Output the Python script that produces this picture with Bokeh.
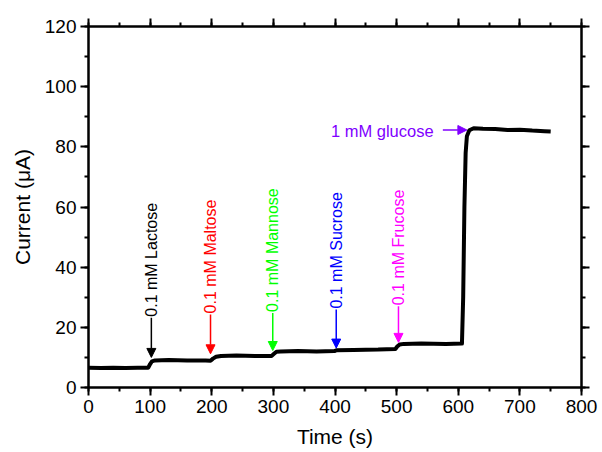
from bokeh.plotting import figure
from bokeh.models import (Range1d, LinearAxis, SingleIntervalTicker, Arrow, NormalHead,
                          ColumnDataSource, CustomJSTickFormatter)
from bokeh.core.properties import value
from bokeh.embed import file_html
from bokeh.resources import INLINE
import math

# ---- data ----
time_s = [0, 20, 40, 60, 80, 97, 100, 103, 108, 130, 160, 190, 198, 202, 207, 215, 240, 270,
          297, 301, 305, 312, 340, 370, 399, 403, 430, 470, 498, 501, 505, 512, 540, 580,
          606, 608, 610, 612, 614, 618, 625, 640, 660, 680, 700, 720, 740, 750]
current_ua = [6.6, 6.5, 6.6, 6.5, 6.6, 6.6, 7.8, 8.7, 9.0, 9.1, 9.0, 9.0, 8.9, 9.6, 10.2, 10.5, 10.6, 10.5,
              10.5, 11.2, 11.9, 12.0, 12.1, 12.0, 12.1, 12.4, 12.5, 12.6, 12.8, 13.6, 14.3, 14.5, 14.6, 14.5,
              14.6, 30.0, 60.0, 78.0, 83.5, 85.5, 86.2, 86.0, 85.9, 85.6, 85.7, 85.4, 85.2, 85.1]

add_labels = ["0.1 mM Lactose", "0.1 mM Maltose", "0.1 mM Mannose", "0.1 mM Sucrose", "0.1 mM Frucose"]
add_time = [102, 198, 299, 402, 503]
add_tip = [10.0, 11.2, 12.3, 13.1, 15.0]
add_tail = [23.2, 24.3, 24.8, 25.9, 27.0]
add_colors = ["#000000", "#FF0000", "#00FF00", "#0000FF", "#FF00FF"]

glu_label = "1 mM glucose"
glu_y = 85.6
glu_tail_t = 575
glu_tip_t = 614
glu_text_t = 560
glu_color = "#8000FF"

x_ticks_interval = 100
y_ticks_interval = 20

FONT = "Liberation Sans"

p = figure(width=602, height=452, output_backend="svg", toolbar_location=None,
           x_range=Range1d(0, 800), y_range=Range1d(0, 120),
           min_border_left=88, min_border_right=21, min_border_top=26, min_border_bottom=65)
p.grid.visible = False
p.outline_line_color = "black"
p.outline_line_width = 2

def style_axis(ax, labels=True):
    ax.axis_line_width = 2
    ax.major_tick_line_width = 2
    ax.minor_tick_line_width = 2
    ax.major_tick_out = 8
    ax.major_tick_in = 0
    ax.minor_tick_out = 4
    ax.minor_tick_in = 0
    ax.major_label_text_font = FONT
    ax.major_label_text_font_size = "19px"
    ax.major_label_text_color = "black"
    ax.axis_label_text_font = FONT
    ax.axis_label_text_font_size = "21px"
    ax.axis_label_text_font_style = "normal"
    ax.axis_label_text_color = "black"
    if not labels:
        ax.formatter = CustomJSTickFormatter(code="return ''")

xt = SingleIntervalTicker(interval=x_ticks_interval, num_minor_ticks=2)
yt = SingleIntervalTicker(interval=y_ticks_interval, num_minor_ticks=2)

p.xaxis.ticker = xt
p.yaxis.ticker = yt
style_axis(p.xaxis[0])
style_axis(p.yaxis[0])
p.xaxis.axis_label = "Time (s)"
p.yaxis.axis_label = "Current (μA)"
p.xaxis.major_label_standoff = 4
p.yaxis.major_label_standoff = 4
p.xaxis.axis_label_standoff = 9
p.yaxis.axis_label_standoff = 8

top = LinearAxis(ticker=SingleIntervalTicker(interval=x_ticks_interval, num_minor_ticks=2))
style_axis(top, labels=False)
p.add_layout(top, "above")
right = LinearAxis(ticker=SingleIntervalTicker(interval=y_ticks_interval, num_minor_ticks=2))
style_axis(right, labels=False)
p.add_layout(right, "right")

p.line(time_s, current_ua, line_color="black", line_width=4, line_join="round")

for t, tip, tail, lab, c in zip(add_time, add_tip, add_tail, add_labels, add_colors):
    p.add_layout(Arrow(end=NormalHead(size=9, fill_color=c, line_color=c, line_width=1),
                       x_start=t, y_start=tail, x_end=t, y_end=tip,
                       line_color=c, line_width=1.5))

src = ColumnDataSource(dict(x=add_time, y=add_tail, text=add_labels, color=add_colors))
p.text(x="x", y="y", text="text", source=src, angle=math.pi / 2, text_color="color",
       text_align="left", text_baseline="middle", y_offset=-1,
       text_font=value(FONT), text_font_size="16px")

p.add_layout(Arrow(end=NormalHead(size=9, fill_color=glu_color, line_color=glu_color, line_width=1),
                   x_start=glu_tail_t, y_start=glu_y, x_end=glu_tip_t, y_end=glu_y,
                   line_color=glu_color, line_width=1.5))
p.text(x=[glu_text_t], y=[glu_y], text=[glu_label], text_color=glu_color,
       text_align="right", text_baseline="middle", y_offset=1,
       text_font=value(FONT), text_font_size="16.5px")

open("out.html", "w").write(file_html(p, INLINE))
